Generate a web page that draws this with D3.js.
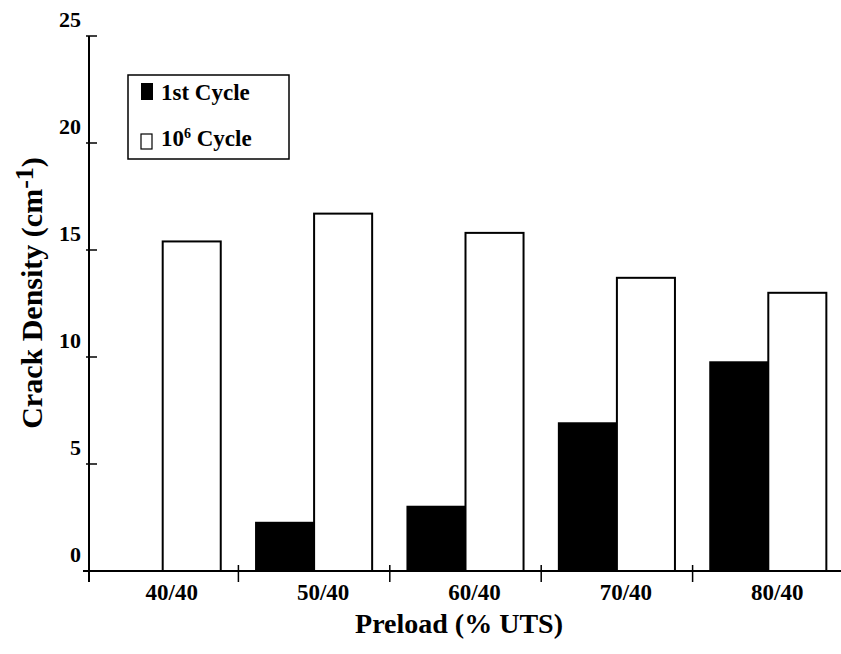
<!DOCTYPE html>
<html><head><meta charset="utf-8">
<script src="https://cdn.jsdelivr.net/npm/d3@7"></script>
<style>body{margin:0;background:#fff}svg{display:block}text{font-family:"Liberation Serif","Times New Roman",serif;font-weight:bold;fill:#000}</style>
</head><body><svg id="c" width="841" height="654"></svg>
<script>
const categories = ["40/40","50/40","60/40","70/40","80/40"];
const firstCycle = [0, 2.3, 3.05, 6.95, 9.8];
const millionCycle = [15.4, 16.7, 15.8, 13.7, 13.0];
const yTicks = [0,5,10,15,20,25];
const seriesNames = ["first","million"];

const svg = d3.select("#c");
const x = d3.scaleBand().domain(categories).range([87, 844]).paddingInner(0.22).paddingOuter(0.11);
const xs = d3.scaleBand().domain(seriesNames).range([0, x.bandwidth()]);
const y = d3.scaleLinear().domain([0,25]).range([571, 36]);

const data = categories.map((c,i)=>({cat:c, first:firstCycle[i], million:millionCycle[i]}));

// bars
const g = svg.append("g");
data.forEach(d=>{
  g.append("rect").attr("x", x(d.cat)+xs("first")).attr("y", y(d.first))
   .attr("width", xs.bandwidth()).attr("height", y(0)-y(d.first)).attr("fill","#000");
  g.append("rect").attr("x", x(d.cat)+xs("million")).attr("y", y(d.million))
   .attr("width", xs.bandwidth()-1).attr("height", y(0)-y(d.million))
   .attr("fill","#fff").attr("stroke","#000").attr("stroke-width",2);
});

// axes
svg.append("line").attr("x1",89).attr("x2",89).attr("y1",y(25)).attr("y2",582).attr("stroke","#000").attr("stroke-width",2);
svg.append("line").attr("x1",83).attr("x2",841).attr("y1",y(0)).attr("y2",y(0)).attr("stroke","#000").attr("stroke-width",2);
yTicks.forEach(t=>{
  svg.append("line").attr("x1",86).attr("x2",97).attr("y1",y(t)).attr("y2",y(t)).attr("stroke","#000").attr("stroke-width",1.5);
  svg.append("text").attr("x",81).attr("y",y(t)-9).attr("text-anchor","end").attr("font-size",22).text(t);
});
categories.forEach((c,i)=>{
  if(i>0){
    const bx = x(c) - x.step()*x.paddingInner()/2;
    svg.append("line").attr("x1",bx).attr("x2",bx).attr("y1",y(0)-6).attr("y2",y(0)+11).attr("stroke","#000").attr("stroke-width",1.5);
  }
  svg.append("text").attr("x", x(c)+x.bandwidth()/2+9).attr("y",600).attr("text-anchor","middle").attr("font-size",23).text(c);
});

// titles
svg.append("text").attr("x",459).attr("y",633).attr("text-anchor","middle").attr("font-size",28).text("Preload (% UTS)");
const yt = svg.append("text").attr("transform","translate(42,293) rotate(-90)").attr("text-anchor","middle").attr("font-size",30);
yt.append("tspan").text("Crack Density (cm");
yt.append("tspan").attr("font-size",26).attr("dy",-9).text("-1");
yt.append("tspan").attr("dy",9).text(")");

// legend
svg.append("rect").attr("x",128).attr("y",75).attr("width",161).attr("height",84).attr("fill","#fff").attr("stroke","#000").attr("stroke-width",1.5);
svg.append("rect").attr("x",141).attr("y",83).attr("width",12).attr("height",17).attr("fill","#000");
svg.append("rect").attr("x",141).attr("y",134).attr("width",11).attr("height",15).attr("fill","#fff").attr("stroke","#000").attr("stroke-width",1.2);
svg.append("text").attr("x",161).attr("y",100).attr("font-size",23).text("1st Cycle");
const l2 = svg.append("text").attr("x",161).attr("y",146).attr("font-size",23);
l2.append("tspan").text("10");
l2.append("tspan").attr("font-size",14).attr("dy",-8).text("6");
l2.append("tspan").attr("dy",8).text(" Cycle");
</script></body></html>
